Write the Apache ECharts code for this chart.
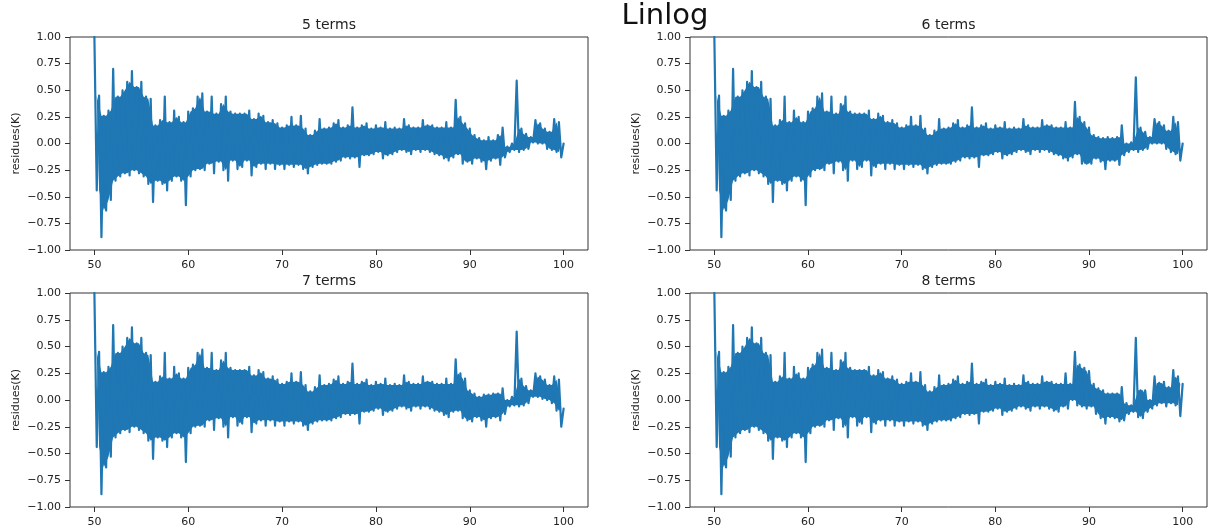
<!DOCTYPE html>
<html>
<head>
<meta charset="utf-8">
<script src="https://cdn.jsdelivr.net/npm/echarts@6/dist/echarts.min.js"></script>
<style>
  html, body { margin: 0; padding: 0; background: #fff; }
  #chart { width: 1208px; height: 532px; }
</style>
</head>
<body>
<div id="chart"></div>
<script>
// residue envelope: upper points at x = 50, 50.5, ...
// lower points half a step later (50.25, 50.75, ...)
const X0 = 50;
const STEP = 0.5;

const titles = ['5 terms', '6 terms', '7 terms', '8 terms'];
const xTicks = [50, 60, 70, 80, 90, 100];

// x = 50.0 .. 86.5 (common to all four fits)
const headHi = [1.00, 0.45, 0.26, 0.31, 0.70, 0.44, 0.50, 0.58, 0.68, 0.53,
  0.58, 0.44, 0.42, 0.17, 0.22, 0.44, 0.20, 0.31, 0.25, 0.20,
  0.30, 0.33, 0.44, 0.47, 0.30, 0.44, 0.28, 0.37, 0.44, 0.30,
  0.28, 0.28, 0.28, 0.31, 0.23, 0.28, 0.26, 0.20, 0.22, 0.19,
  0.15, 0.17, 0.25, 0.17, 0.26, 0.14, 0.08, 0.12, 0.23, 0.14,
  0.15, 0.19, 0.22, 0.15, 0.17, 0.34, 0.15, 0.17, 0.19, 0.14,
  0.17, 0.15, 0.20, 0.14, 0.15, 0.14, 0.23, 0.17, 0.15, 0.15,
  0.22, 0.17, 0.17, 0.15];
// x = 50.25 .. 86.75
const headLo = [-0.44, -0.88, -0.63, -0.53, -0.35, -0.31, -0.28, -0.30, -0.25, -0.28,
  -0.31, -0.38, -0.55, -0.35, -0.38, -0.44, -0.35, -0.31, -0.35, -0.58,
  -0.31, -0.25, -0.24, -0.25, -0.19, -0.28, -0.17, -0.25, -0.35, -0.16,
  -0.24, -0.22, -0.16, -0.30, -0.22, -0.19, -0.24, -0.19, -0.24, -0.20,
  -0.24, -0.20, -0.22, -0.20, -0.24, -0.28, -0.22, -0.20, -0.19, -0.19,
  -0.19, -0.17, -0.16, -0.13, -0.14, -0.13, -0.22, -0.11, -0.11, -0.10,
  -0.08, -0.14, -0.11, -0.10, -0.08, -0.06, -0.08, -0.10, -0.06, -0.08,
  -0.06, -0.08, -0.10, -0.11];

// x = 87.0 .. 100.0
const tailHi5 = [0.15, 0.20, 0.15, 0.41, 0.25, 0.19, 0.14, 0.08, 0.05, 0.03, 0.06, 0.03, 0.08, 0.15,
  -0.03, 0.00, 0.59, 0.14, 0.09, 0.06, 0.22, 0.19, 0.14, 0.11, 0.23, 0.20, 0.00];
const tailHi6 = [0.15, 0.20, 0.15, 0.39, 0.25, 0.20, 0.15, 0.08, 0.06, 0.05, 0.06, 0.05, 0.06, 0.17,
  0.00, 0.01, 0.62, 0.15, 0.11, 0.06, 0.23, 0.20, 0.17, 0.12, 0.25, 0.20, 0.00];
const tailHi7 = [0.15, 0.20, 0.15, 0.38, 0.25, 0.20, 0.09, 0.06, 0.03, 0.05, 0.05, 0.06, 0.06, 0.11,
  0.00, 0.03, 0.64, 0.20, 0.13, 0.09, 0.25, 0.22, 0.19, 0.14, 0.22, 0.19, -0.08];
const tailHi8 = [0.15, 0.25, 0.15, 0.45, 0.33, 0.30, 0.27, 0.15, 0.11, 0.09, 0.06, 0.06, 0.06, 0.12,
  -0.03, -0.05, 0.58, 0.09, 0.09, 0.00, 0.22, 0.16, 0.17, 0.12, 0.28, 0.22, 0.15];
// x = 87.25 .. 99.75
const tailLo5 = [-0.14, -0.16, -0.13, -0.10, -0.19, -0.17, -0.19, -0.14, -0.17, -0.24, -0.16, -0.14, -0.20,
  -0.13, -0.08, -0.06, -0.08, -0.06, -0.05, 0.01, 0.00, 0.00, -0.05, -0.06, -0.08, -0.13];
const tailLo6 = [-0.14, -0.16, -0.13, -0.10, -0.19, -0.19, -0.19, -0.14, -0.17, -0.24, -0.16, -0.16, -0.20,
  -0.11, -0.08, -0.06, -0.08, -0.06, -0.05, 0.00, 0.00, 0.00, -0.05, -0.08, -0.10, -0.16];
const tailLo7 = [-0.14, -0.16, -0.11, -0.10, -0.17, -0.19, -0.20, -0.16, -0.19, -0.25, -0.17, -0.16, -0.19,
  -0.13, -0.06, -0.05, -0.06, -0.05, -0.03, 0.03, 0.03, 0.01, 0.00, -0.03, -0.10, -0.25];
const tailLo8 = [-0.06, -0.08, 0.00, -0.05, -0.06, -0.08, -0.06, -0.13, -0.17, -0.22, -0.16, -0.17, -0.20,
  -0.19, -0.13, -0.11, -0.16, -0.17, -0.11, -0.08, -0.05, -0.03, -0.06, -0.03, -0.05, -0.15];

const tailsHi = [tailHi5, tailHi6, tailHi7, tailHi8];
const tailsLo = [tailLo5, tailLo6, tailLo7, tailLo8];

// alternate upper / lower points so the line reads like the dense trace
function zig(hi, lo) {
  const pts = [];
  for (let i = 0; i < hi.length; i++) {
    pts.push([X0 + i * STEP, hi[i]]);
    if (i < lo.length) pts.push([X0 + i * STEP + STEP / 2, lo[i]]);
  }
  return pts;
}

// solid core of the band (spikes are left to the line on top)
function core(hi, lo) {
  const up = [], down = [];
  for (let i = 0; i < hi.length - 1; i++) {
    up.push([X0 + i * STEP + STEP / 2, Math.min(hi[i], hi[i + 1])]);
  }
  for (let i = 1; i < lo.length; i++) {
    down.push([X0 + i * STEP, Math.max(lo[i - 1], lo[i])]);
  }
  return up.concat(down.reverse());
}

const boxes = [
  { left: 70, top: 37, width: 518, height: 213 },
  { left: 690, top: 37, width: 517, height: 213 },
  { left: 70, top: 293, width: 518, height: 214 },
  { left: 690, top: 293, width: 517, height: 214 }
];

const BLUE = '#1f77b4';
const FONT = 'DejaVu Sans';
const fmtY = v => (v < 0 ? '\u2212' : '') + Math.abs(v).toFixed(2);

let grids = [], xAxes = [], yAxes = [], series = [], texts = [];

boxes.forEach(function (b, i) {
  const hi = headHi.concat(tailsHi[i]);
  const lo = headLo.concat(tailsLo[i]);
  const band = core(hi, lo);

  grids.push({
    left: b.left, top: b.top, width: b.width, height: b.height,
    show: true, borderColor: '#333', borderWidth: 1, backgroundColor: 'transparent'
  });
  xAxes.push({
    type: 'value', gridIndex: i, min: 47.4, max: 102.6, position: 'bottom',
    axisLine: { show: false, onZero: false },
    axisTick: { show: true, length: 5, customValues: xTicks, lineStyle: { color: '#333' } },
    axisLabel: { customValues: xTicks, fontSize: 11, fontFamily: FONT, color: '#222', margin: 10 },
    splitLine: { show: false }
  });
  yAxes.push({
    type: 'value', gridIndex: i, min: -1, max: 1, interval: 0.25, position: 'left',
    axisLine: { show: false, onZero: false },
    axisTick: { show: true, length: 5, lineStyle: { color: '#333' } },
    axisLabel: { formatter: fmtY, fontSize: 11, fontFamily: FONT, color: '#222', margin: 9 },
    splitLine: { show: false }
  });
  series.push({
    type: 'custom', xAxisIndex: i, yAxisIndex: i, z: 1, silent: true,
    data: [[X0, 0]],
    renderItem: function (params, api) {
      return {
        type: 'polygon',
        shape: { points: band.map(p => api.coord(p)) },
        style: { fill: BLUE }
      };
    }
  });
  series.push({
    type: 'line', xAxisIndex: i, yAxisIndex: i, z: 2,
    data: zig(hi, lo),
    showSymbol: false, symbol: 'none', clip: true,
    lineStyle: { color: BLUE, width: 2.2, join: 'round', cap: 'round' }
  });
  texts.push({
    type: 'text', x: b.left + b.width / 2, y: b.top - 12,
    style: { text: titles[i], fontSize: 14, fontFamily: FONT, fill: '#222',
      textAlign: 'center', textVerticalAlign: 'middle' }
  });
  texts.push({
    type: 'text', x: b.left - 54, y: b.top + b.height / 2, rotation: Math.PI / 2,
    style: { text: 'residues(K)', fontSize: 11, fontFamily: FONT, fill: '#222',
      textAlign: 'center', textVerticalAlign: 'middle' }
  });
});

texts.push({
  type: 'text', x: 665, y: 16,
  style: { text: 'Linlog', fontSize: 29, fontFamily: FONT, fill: '#111',
    textAlign: 'center', textVerticalAlign: 'middle' }
});

const myChart = echarts.init(document.getElementById('chart'));
myChart.setOption({
  animation: false,
  backgroundColor: '#fff',
  grid: grids,
  xAxis: xAxes,
  yAxis: yAxes,
  series: series,
  graphic: texts
});
</script>
</body>
</html>
